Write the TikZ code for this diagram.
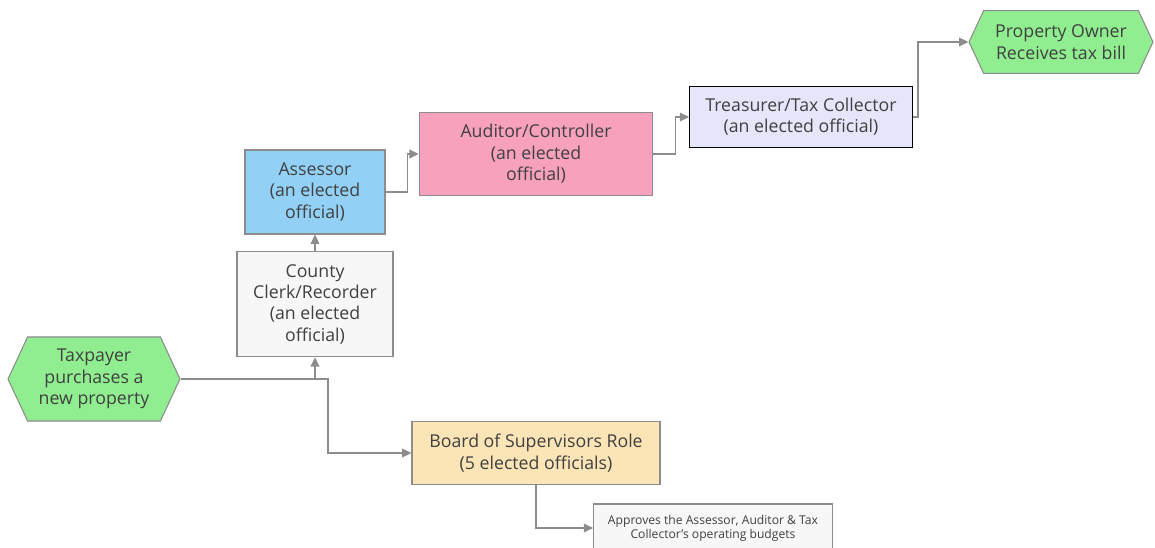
\documentclass[tikz,border=0pt]{standalone}
\usepackage{fontspec}
\setmainfont{Open Sans}
\usepackage{tikz}
\usetikzlibrary{arrows.meta,positioning,shapes.symbols}
\definecolor{txtgray}{HTML}{404040}
\definecolor{linegray}{HTML}{8C8C8C}
\definecolor{hexgreen}{HTML}{90EE90}
\definecolor{clerkfill}{HTML}{F7F7F7}
\definecolor{assfill}{HTML}{92D0F5}
\definecolor{audfill}{HTML}{F7A1BC}
\definecolor{treasfill}{HTML}{E6E6FA}
\definecolor{boardfill}{HTML}{FBE5B7}
\tikzset{
  office/.style={draw=linegray,line width=0.8pt,align=center,text=txtgray,
    inner sep=1pt},
  hexnode/.style={signal,signal to=east and west,signal pointer angle=130,
    draw=linegray,line width=0.8pt,fill=hexgreen,align=center,text=txtgray,
    inner sep=1pt},
  every node/.style={font=\fontsize{13.3}{16}\selectfont}
}
\tikzstyle{flow} = [draw=linegray,line width=1pt,-{Triangle[length=7pt,width=6.5pt]}]

\begin{document}
\begin{tikzpicture}[x=0.75pt,y=-0.75pt]
  \useasboundingbox (0,0) rectangle (1155,548);
  % start and end of the chain
  \node[hexnode,minimum width=129pt,minimum height=63pt] (buyer) at (94,379)
    {Taxpayer\\purchases a\\new property};
  \node[hexnode,minimum width=138pt,minimum height=47pt] (owner) at (1061,42)
    {Property Owner\\Receives tax bill};
  % county offices
  \node[office,fill=clerkfill,minimum width=117pt,minimum height=79pt] (clerk) at (315,304)
    {County\\Clerk/Recorder\\(an elected\\official)};
  \node[office,fill=assfill,minimum width=105pt,minimum height=63pt] (assessor) at (315,192)
    {Assessor\\(an elected\\official)};
  \node[office,fill=audfill,minimum width=175pt,minimum height=62pt] (auditor) at (536,154)
    {Auditor/Controller\\(an elected\\official)};
  \node[office,draw=black,fill=treasfill,minimum width=167pt,minimum height=46pt] (treasurer) at (801,117)
    {Treasurer/Tax Collector\\(an elected official)};
  \node[office,fill=boardfill,minimum width=186pt,minimum height=47pt] (board) at (536,453)
    {Board of Supervisors Role\\(5 elected officials)};
  \node[office,fill=clerkfill,minimum width=179pt,minimum height=36pt,
    font=\fontsize{9.1}{10.5}\selectfont] (budgets) at (713,528)
    {Approves the Assessor, Auditor \& Tax\\Collector's operating budgets};
  % connectors
  \coordinate (split) at (328,379);
  \draw[flow] (buyer.east) -| (clerk.south);
  \draw[flow] (buyer.east) -- (split) |- (board.west);
  \draw[flow] (clerk.north) -- (assessor.south);
  \draw[flow] (assessor.east) -- ++(22,0) |- (auditor.west);
  \draw[flow] (auditor.east) -- ++(22,0) |- (treasurer.west);
  \draw[flow] (treasurer.east) -- ++(5,0) |- (owner.west);
  \draw[flow] (board.south) |- (budgets.west);
\end{tikzpicture}
\end{document}
